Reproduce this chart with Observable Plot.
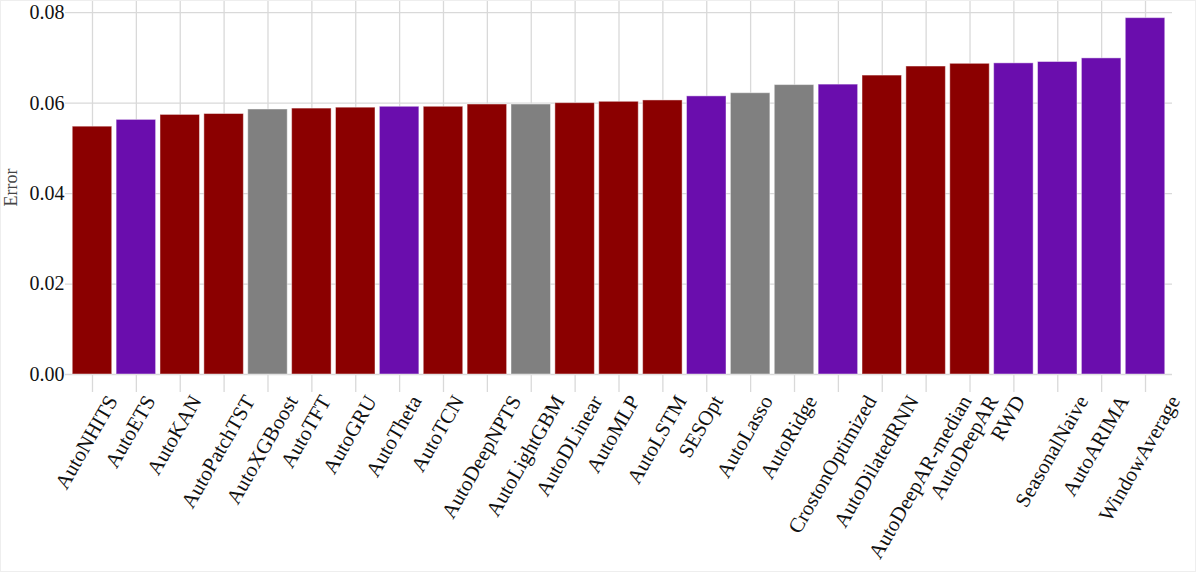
<!DOCTYPE html>
<html>
<head>
<meta charset="utf-8">
<script src="https://cdn.jsdelivr.net/npm/d3@7"></script>
<script src="https://cdn.jsdelivr.net/npm/@observablehq/plot@0.6"></script>
<style>
  html, body { margin: 0; padding: 0; background: #fff; }
  svg { display: block; outline: 1px solid #eeeeee; outline-offset: -1px; }
</style>
</head>
<body>
<div id="chart"></div>
<script>
const models = ["AutoNHITS","AutoETS","AutoKAN","AutoPatchTST","AutoXGBoost","AutoTFT","AutoGRU","AutoTheta","AutoTCN","AutoDeepNPTS","AutoLightGBM","AutoDLinear","AutoMLP","AutoLSTM","SESOpt","AutoLasso","AutoRidge","CrostonOptimized","AutoDilatedRNN","AutoDeepAR-median","AutoDeepAR","RWD","SeasonalNaive","AutoARIMA","WindowAverage"];
const errors = [0.0548,0.0563,0.0574,0.0576,0.0586,0.0588,0.0590,0.0592,0.0592,0.0597,0.0597,0.0600,0.0603,0.0606,0.0615,0.0622,0.0640,0.0641,0.0661,0.0681,0.0687,0.0688,0.0691,0.0699,0.0788];
const groups = ["neural","stats","neural","neural","ml","neural","neural","stats","neural","neural","ml","neural","neural","neural","stats","ml","ml","stats","neural","neural","neural","stats","stats","stats","stats"];
const groupNames = ["neural","stats","ml"];
const groupColors = ["#8b0000","#6a0dad","#808080"];
const yTicks = [0, 0.02, 0.04, 0.06, 0.08];
const yLabel = "Error";

const data = models.map((m, i) => ({model: m, error: errors[i], group: groups[i]}));
const grid = "#d9d9d9";
const labelSize = 21;

const svg = Plot.plot({
  width: 1196,
  height: 572,
  marginLeft: 65,
  marginRight: 24,
  marginTop: 0,
  marginBottom: 198,
  style: {fontFamily: "'Liberation Serif', serif", fontSize: "20px", color: "#111", background: "#fff"},
  x: {domain: models, paddingInner: 0.1, paddingOuter: 0.165, round: false, label: null},
  y: {domain: [0, 0.0827], label: null},
  color: {domain: groupNames, range: groupColors},
  marks: [
    Plot.gridY({ticks: yTicks, stroke: grid, strokeOpacity: 1, strokeWidth: 1.3}),
    Plot.gridX({stroke: grid, strokeOpacity: 1, strokeWidth: 1.3}),
    Plot.axisX({tickSize: 18, stroke: grid, strokeWidth: 1.3, tickFormat: () => "", label: null}),
    Plot.axisY({ticks: yTicks, tickSize: 0, tickPadding: 1, tickFormat: d => d.toFixed(2), fontSize: 20, fill: "#111", label: null}),
    Plot.barY(data, {x: "model", y: "error", fill: "group", stroke: "white", strokeOpacity: 0.45, strokeWidth: 1}),
    Plot.text(models, {x: d => d, frameAnchor: "bottom", rotate: -60, textAnchor: "middle", fontSize: labelSize, fill: "#111"}),
    Plot.text([yLabel], {frameAnchor: "left", dx: -54, rotate: -90, textAnchor: "middle", fontSize: 18, fill: "#444"})
  ]
});
document.getElementById("chart").appendChild(svg);

// drop each rotated label (centred on its tick) so the top of its rotated box sits just below the ticks
function placeLabels() {
  const gap = 22; // distance from frame bottom to top of rotated label box
  const g = svg.querySelectorAll('g[aria-label="text"]')[0];
  if (!g) return;
  const s = Math.sin(Math.PI / 3), c = Math.cos(Math.PI / 3);
  g.querySelectorAll("text").forEach(t => {
    const tr = t.getAttribute("data-tr") || t.getAttribute("transform") || "";
    t.setAttribute("data-tr", tr);
    const L = t.getComputedTextLength();
    const H = L * s + 0.8 * labelSize * c;
    t.setAttribute("transform", `translate(0,${gap + H / 2}) ` + tr);
  });
}
placeLabels();
if (document.fonts && document.fonts.ready) document.fonts.ready.then(placeLabels);
</script>
</body>
</html>
